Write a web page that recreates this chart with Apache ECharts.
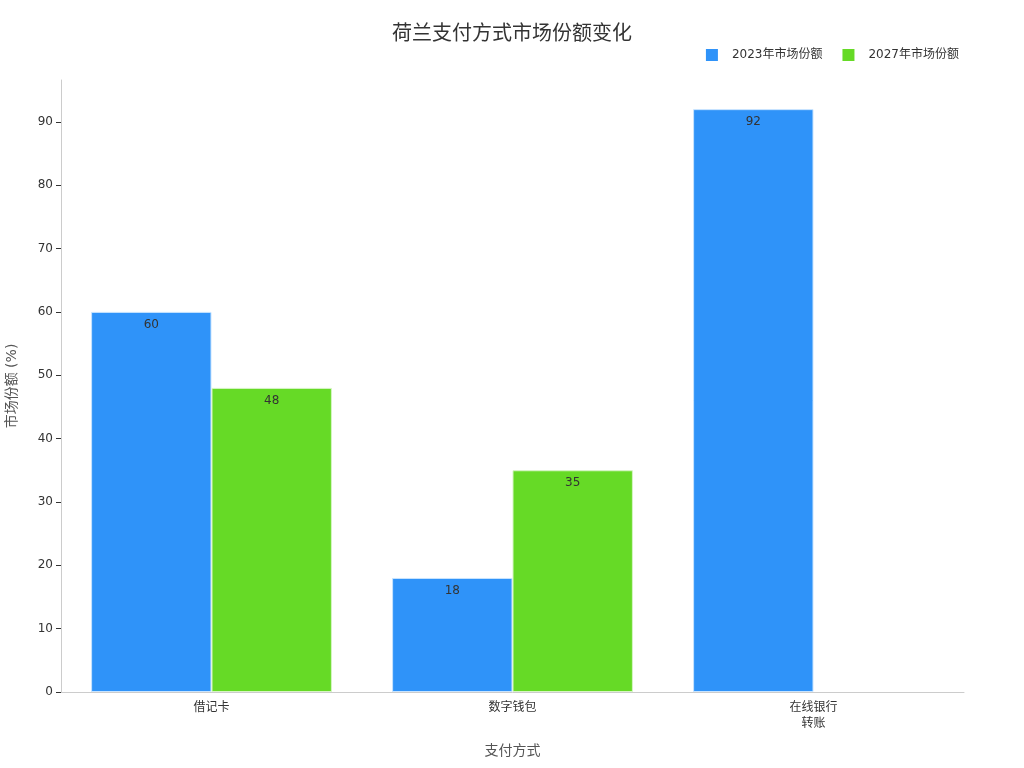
<!DOCTYPE html>
<html>
<head>
<meta charset="utf-8">
<script src="https://cdn.jsdelivr.net/npm/echarts@6/dist/echarts.min.js"></script>
<style>html,body{margin:0;padding:0;background:#fff}#c{width:1024px;height:768px}</style>
</head>
<body>
<div id="c"></div>
<script>
const categories = ['借记卡', '数字钱包', '在线银行\n转账'];
const seriesNames = ['2023年市场份额', '2027年市场份额'];
const values2023 = [60, 18, 92];
const values2027 = [48, 35, null];
const yMax = 96.6;

const chart = echarts.init(document.getElementById('c'));
const font = '"DejaVu Sans", "Noto Sans CJK SC", sans-serif';
chart.setOption({
  textStyle: { fontFamily: font },
  title: {
    text: '荷兰支付方式市场份额变化',
    left: 'center', top: 20,
    textStyle: { fontSize: 20, fontWeight: 'normal', color: '#333', fontFamily: font }
  },
  legend: {
    top: 44, right: 60,
    itemWidth: 12, itemHeight: 12, itemGap: 20,
    icon: 'rect',
    itemStyle: { borderWidth: 0 },
    textStyle: { fontSize: 12, color: '#333', fontFamily: font, padding: [0, 0, 0, 9] },
    data: seriesNames
  },
  grid: { left: 61, right: 60, top: 80, bottom: 76, containLabel: false, outerBoundsMode: 'none' },
  xAxis: {
    type: 'category',
    data: categories,
    name: '支付方式',
    nameLocation: 'middle',
    nameGap: 52,
    nameTextStyle: { fontSize: 14, color: '#555', fontFamily: font },
    axisLine: { lineStyle: { color: '#ccc' } },
    axisTick: { alignWithLabel: true, lineStyle: { color: '#333' } },
    axisLabel: { fontSize: 12, color: '#333', lineHeight: 16, fontFamily: font }
  },
  yAxis: {
    type: 'value',
    min: 0, max: yMax, interval: 10,
    name: '市场份额 (%)',
    nameLocation: 'middle',
    nameGap: 42,
    nameTextStyle: { fontSize: 14, color: '#555', fontFamily: font },
    axisLine: { show: true, lineStyle: { color: '#ccc' } },
    axisTick: { show: true, lineStyle: { color: '#333' } },
    axisLabel: {
      fontSize: 12, color: '#333', fontFamily: font, showMaxLabel: false,
      formatter: v => (v % 10 === 0 ? String(v) : '')
    },
    splitLine: { show: false }
  },
  series: [
    {
      name: seriesNames[0], type: 'bar', data: values2023,
      barGap: '0%', barCategoryGap: '20%',
      itemStyle: { color: '#2f93f9', borderColor: '#c8e4ff', borderWidth: 1 },
      label: { show: true, position: 'insideTop', distance: 7, color: '#333', fontSize: 12, fontFamily: font }
    },
    {
      name: seriesNames[1], type: 'bar', data: values2027,
      barGap: '0%', barCategoryGap: '20%',
      itemStyle: { color: '#66da26', borderColor: '#d6f5c4', borderWidth: 1 },
      label: { show: true, position: 'insideTop', distance: 7, color: '#333', fontSize: 12, fontFamily: font }
    }
  ]
});
</script>
</body>
</html>
